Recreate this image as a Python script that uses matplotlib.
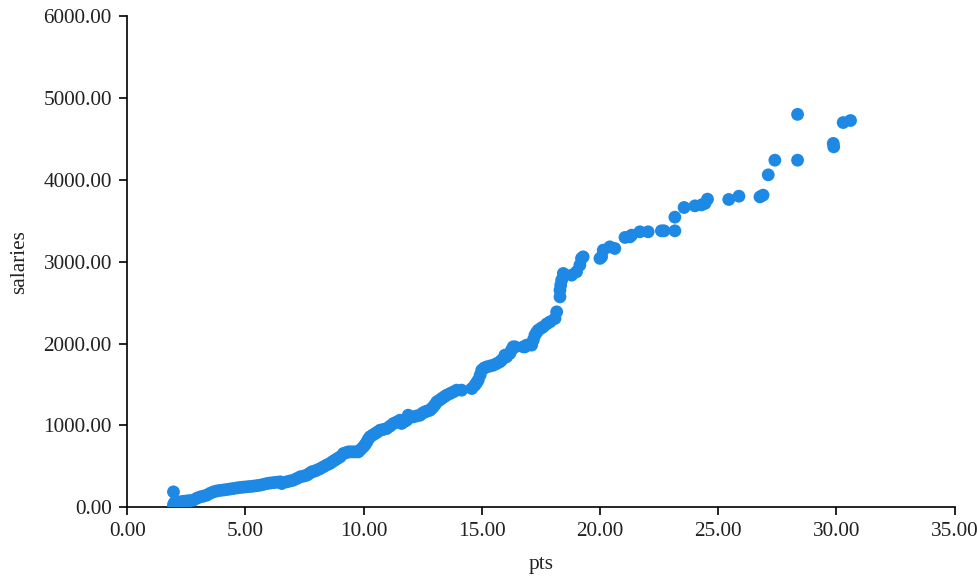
import matplotlib
matplotlib.use("Agg")
import matplotlib.pyplot as plt
from matplotlib.ticker import FormatStrFormatter

plt.rcParams["font.family"] = ["Liberation Serif", "DejaVu Serif"]

# points per game vs salary
pts = [
    1.96, 1.96, 1.98, 2.03, 2.10, 2.24, 2.38, 2.52, 2.66, 2.80, 2.95, 3.09, 3.23, 3.37,
    3.51, 3.65, 3.79, 3.93, 4.08, 4.22, 4.35, 4.49, 4.64, 4.78, 4.92, 5.06, 5.20, 5.34,
    5.48, 5.62, 5.76, 5.91, 6.05, 6.19, 6.33, 6.47, 6.54, 6.75, 6.89, 7.03, 7.18, 7.32,
    7.46, 7.60, 7.70, 7.81, 7.92, 8.02, 8.16, 8.30, 8.44, 8.58, 8.68, 8.79, 8.90, 9.01,
    9.15, 9.25, 9.36, 9.46, 9.57, 9.68, 9.78, 9.88, 9.99, 10.07, 10.14, 10.20, 10.27,
    10.38, 10.49, 10.60, 10.70, 10.84, 10.98, 11.12, 11.26, 11.40, 11.54, 11.61, 11.72,
    11.83, 11.89, 11.97, 12.11, 12.25, 12.39, 12.50, 12.60, 12.70, 12.81, 12.88, 12.95,
    13.03, 13.10, 13.20, 13.31, 13.42, 13.52, 13.66, 13.80, 13.94, 14.15, 14.58, 14.71,
    14.78, 14.85, 14.93, 15.00, 15.10, 15.21, 15.35, 15.49, 15.63, 15.77, 15.84, 15.98,
    16.05, 16.19, 16.26, 16.33, 16.41, 16.76, 16.83, 16.90, 17.11, 17.18, 17.25, 17.32,
    17.39, 17.50, 17.60, 17.75, 17.89, 18.10, 18.17, 18.31, 18.31, 18.34, 18.38, 18.45,
    18.80, 19.01, 19.15, 19.22, 19.29, 20.00, 20.07, 20.14, 20.42, 20.63, 21.06, 21.27,
    21.34, 21.69, 22.04, 22.60, 22.71, 23.17, 23.17, 23.56, 24.02, 24.30, 24.44, 24.55,
    25.45, 25.88, 26.77, 26.90, 27.12, 27.40, 28.36, 28.36, 29.87, 29.89, 30.29, 30.60,
]
salaries = [
    187, 25, 45, 65, 60, 65, 72, 77, 80, 86, 110, 126, 135, 147,
    170, 187, 198, 205, 210, 216, 222, 228, 235, 241, 245, 249, 253, 257,
    263, 269, 278, 289, 295, 300, 305, 310, 289, 310, 320, 330, 350, 371,
    380, 391, 410, 432, 440, 452, 470, 493, 515, 534, 555, 575, 595, 615,
    656, 665, 676, 676, 676, 676, 676, 705, 737, 765, 798, 830, 859,
    880, 900, 920, 941, 950, 961, 990, 1022, 1040, 1063, 1023, 1045,
    1063, 1124, 1100, 1104, 1115, 1124, 1150, 1165, 1175, 1185, 1205, 1226,
    1255, 1287, 1305, 1328, 1350, 1369, 1389, 1409, 1430, 1430, 1450, 1491,
    1520, 1552, 1613, 1674, 1700, 1714, 1725, 1735, 1755, 1776, 1796, 1858,
    1837, 1878, 1920, 1959, 1959, 1959, 1959, 1980, 1980, 2041, 2102, 2135,
    2163, 2185, 2203, 2240, 2265, 2306, 2387, 2570, 2652, 2713, 2774, 2856,
    2835, 2876, 2958, 3040, 3059, 3040, 3059, 3141, 3181, 3161, 3296, 3303,
    3324, 3365, 3365, 3377, 3377, 3377, 3544, 3662, 3682, 3694, 3711, 3764,
    3760, 3800, 3792, 3813, 4061, 4240, 4240, 4800, 4445, 4403, 4700, 4725,
]

fig = plt.figure(figsize=(9.78, 5.77), dpi=100)
ax = fig.add_axes([0.130, 0.121, 0.846, 0.851])

ax.scatter(pts, salaries, s=85, color="#1E88E5", edgecolors="none", zorder=3)

ax.set_xlim(0, 35)
ax.set_ylim(0, 6000)
ax.set_xticks(range(0, 36, 5))
ax.set_yticks(range(0, 6001, 1000))
ax.xaxis.set_major_formatter(FormatStrFormatter("%.2f"))
ax.yaxis.set_major_formatter(FormatStrFormatter("%.2f"))

for lado in ["top", "right"]:
    ax.spines[lado].set_visible(False)
for lado in ["left", "bottom"]:
    ax.spines[lado].set_linewidth(1.2)
    ax.spines[lado].set_color("black")

ax.tick_params(direction="out", length=6, width=1.2, labelsize=15.3, pad=5, labelcolor="#222222")
ax.set_xlabel("pts", fontsize=15.3, labelpad=10, color="#222222")
ax.set_ylabel("salaries", fontsize=15.3, labelpad=10, color="#222222")

plt.savefig("out.png", dpi=100)
plt.close()
